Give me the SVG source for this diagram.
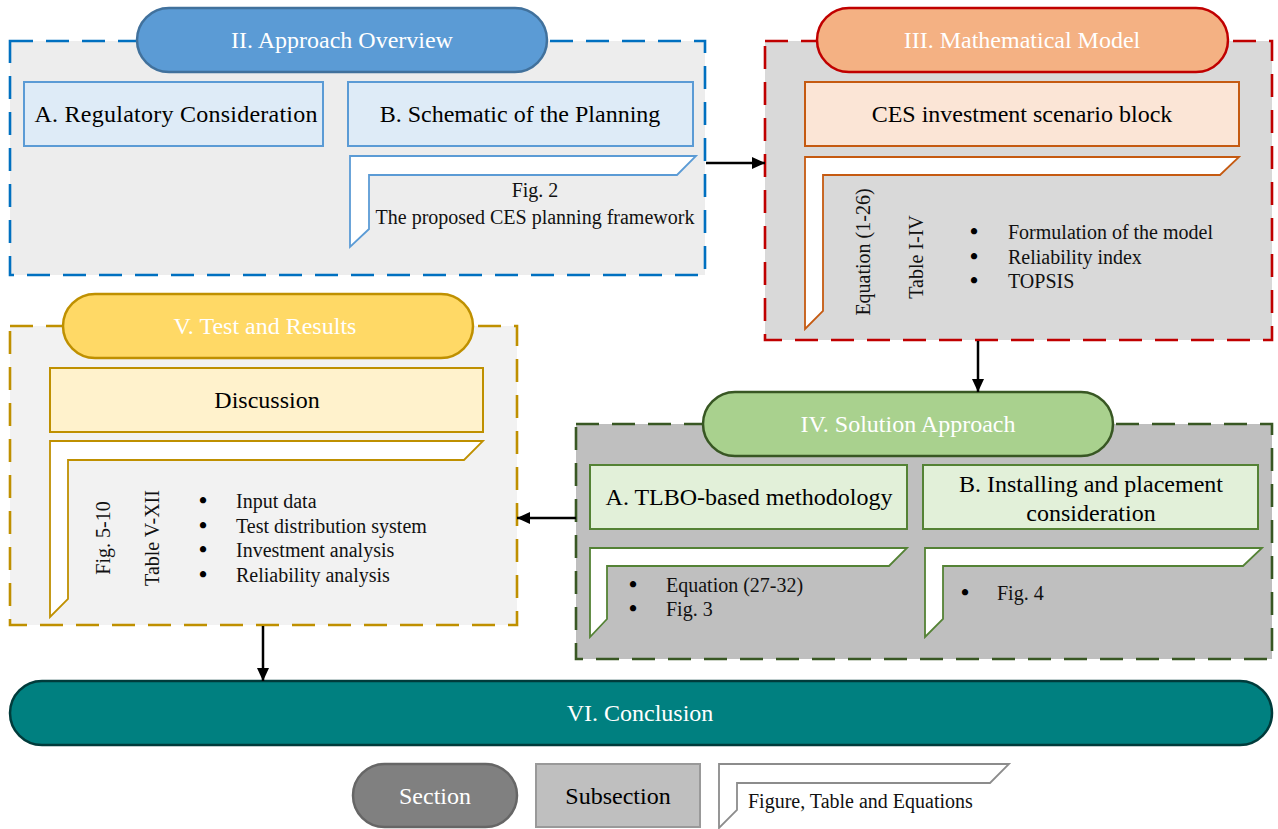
<svg xmlns="http://www.w3.org/2000/svg" width="1278" height="829" viewBox="0 0 1278 829">
<defs>
<marker id="ah" markerUnits="userSpaceOnUse" markerWidth="14" markerHeight="12" refX="13" refY="6" orient="auto">
<path d="M0,0 L13,6 L0,12 z" fill="#000"/>
</marker>
<style>
text{font-family:"Liberation Serif","Times New Roman",serif;}
.big{font-size:24px;text-anchor:middle;}
.sm{font-size:20px;fill:#111;}
.smc{font-size:20px;fill:#111;text-anchor:middle;}
.bul{font-size:23px;fill:#000;font-weight:bold;}
.w{fill:#fff;}
.panel{stroke-width:2.6;stroke-dasharray:23 13;}
.pill{stroke-width:2.5;}
.sub{stroke-width:2;}
.fig{fill:#fff;stroke-width:1.8;}
.conn{stroke:#000;stroke-width:2.5;fill:none;marker-end:url(#ah);}
</style>
</defs>
<rect width="1278" height="829" fill="#fff"/>

<g id="sec2">
<rect class="panel" x="10" y="41" width="695" height="234" fill="#ededed" stroke="#0070c0"/>
<rect class="pill" x="137" y="8" width="410" height="64" rx="32" fill="#5b9bd5" stroke="#41719c"/>
<text class="big w" x="342" y="48">II. Approach Overview</text>
<rect class="sub" x="24" y="82" width="299" height="64" fill="#deebf7" stroke="#5b9bd5"/>
<text class="big" x="176" y="122" textLength="283">A. Regulatory Consideration</text>
<rect class="sub" x="348" y="82" width="345" height="64" fill="#deebf7" stroke="#5b9bd5"/>
<text class="big" x="520" y="122">B. Schematic of the Planning</text>
<path class="fig" d="M350,156 L696,156 L677,175 L369,175 L369,229 L350,247 Z" stroke="#5b9bd5"/>
<text class="smc" x="535" y="197">Fig. 2</text>
<text class="smc" x="535" y="224">The proposed CES planning framework</text>
</g>

<g id="sec3">
<rect class="panel" x="765" y="41" width="507" height="299" fill="#d9d9d9" stroke="#c00000"/>
<rect class="pill" x="817" y="8" width="411" height="64" rx="32" fill="#f4b183" stroke="#c00000"/>
<text class="big w" x="1022" y="48">III. Mathematical Model</text>
<rect class="sub" x="805" y="82" width="434" height="64" fill="#fbe5d6" stroke="#c55a11"/>
<text class="big" x="1022" y="122">CES investment scenario block</text>
<path class="fig" d="M805,157 L1239,157 L1220,175 L823,175 L823,311 L805,329 Z" stroke="#c55a11"/>
<text class="smc" transform="translate(863,252) rotate(-90)" x="0" y="7">Equation (1-26)</text>
<text class="smc" transform="translate(916,257) rotate(-90)" x="0" y="7">Table I-IV</text>
<text class="sm" y="239"><tspan class="bul" x="970">•</tspan><tspan x="1008">Formulation of the model</tspan></text>
<text class="sm" y="264"><tspan class="bul" x="970">•</tspan><tspan x="1008">Reliability index</tspan></text>
<text class="sm" y="288"><tspan class="bul" x="970">•</tspan><tspan x="1008">TOPSIS</tspan></text>
</g>

<g id="sec4">
<rect class="panel" x="576" y="424" width="696" height="235" fill="#bfbfbf" stroke="#385723"/>
<rect class="pill" x="703" y="392" width="410" height="64" rx="32" fill="#a9d18e" stroke="#385723"/>
<text class="big w" x="908" y="432">IV. Solution Approach</text>
<rect class="sub" x="590" y="465" width="317" height="64" fill="#e2f0d9" stroke="#548235"/>
<text class="big" x="749" y="505">A. TLBO-based methodology</text>
<rect class="sub" x="923" y="465" width="335" height="64" fill="#e2f0d9" stroke="#548235"/>
<text class="big" x="1091" y="492">B. Installing and placement</text>
<text class="big" x="1091" y="521">consideration</text>
<path class="fig" d="M590,548 L907,548 L889,566 L607,566 L607,619 L590,637 Z" stroke="#548235"/>
<text class="sm" y="592"><tspan class="bul" x="629">•</tspan><tspan x="666">Equation (27-32)</tspan></text>
<text class="sm" y="616"><tspan class="bul" x="629">•</tspan><tspan x="666">Fig. 3</tspan></text>
<path class="fig" d="M925,548 L1262,548 L1243,566 L943,566 L943,619 L925,637 Z" stroke="#548235"/>
<text class="sm" y="600"><tspan class="bul" x="961">•</tspan><tspan x="997">Fig. 4</tspan></text>
</g>

<g id="sec5">
<rect class="panel" x="10" y="326" width="507" height="299" fill="#f2f2f2" stroke="#bf9000"/>
<rect class="pill" x="63" y="294" width="410" height="64" rx="32" fill="#ffd966" stroke="#bf9000"/>
<text class="big w" x="265" y="334">V. Test and Results</text>
<rect class="sub" x="50" y="368" width="433" height="64" fill="#fff2cc" stroke="#bf9000"/>
<text class="big" x="267" y="408">Discussion</text>
<path class="fig" d="M50,441 L483,441 L464,460 L68,460 L68,599 L50,617 Z" stroke="#bf9000"/>
<text class="smc" transform="translate(103,538) rotate(-90)" x="0" y="7">Fig. 5-10</text>
<text class="smc" transform="translate(152,538) rotate(-90)" x="0" y="7">Table V-XII</text>
<text class="sm" y="508"><tspan class="bul" x="199">•</tspan><tspan x="236">Input data</tspan></text>
<text class="sm" y="533"><tspan class="bul" x="199">•</tspan><tspan x="236">Test distribution system</tspan></text>
<text class="sm" y="557"><tspan class="bul" x="199">•</tspan><tspan x="236">Investment analysis</tspan></text>
<text class="sm" y="582"><tspan class="bul" x="199">•</tspan><tspan x="236">Reliability analysis</tspan></text>
</g>

<g id="sec6">
<rect class="pill" x="10" y="681" width="1262" height="64" rx="32" fill="#008080" stroke="#003b3b"/>
<text class="big w" x="640" y="721">VI. Conclusion</text>
</g>

<g id="legend">
<rect class="pill" x="353" y="764" width="164" height="63" rx="31.5" fill="#808080" stroke="#666"/>
<text class="big w" x="435" y="804">Section</text>
<rect class="sub" x="536" y="764" width="164" height="63" fill="#bfbfbf" stroke="#999"/>
<text class="big" x="618" y="804">Subsection</text>
<path class="fig" d="M719,764 L1009,764 L990,783 L737,783 L737,810 L719,828 Z" stroke="#8c8c8c"/>
<text class="sm" x="748" y="808">Figure, Table and Equations</text>
</g>

<g id="connectors">
<line class="conn" x1="706" y1="163" x2="765" y2="163"/>
<line class="conn" x1="978" y1="341" x2="978" y2="392"/>
<line class="conn" x1="576" y1="518" x2="517" y2="518"/>
<line class="conn" x1="263" y1="626" x2="263" y2="681"/>
</g>
</svg>
